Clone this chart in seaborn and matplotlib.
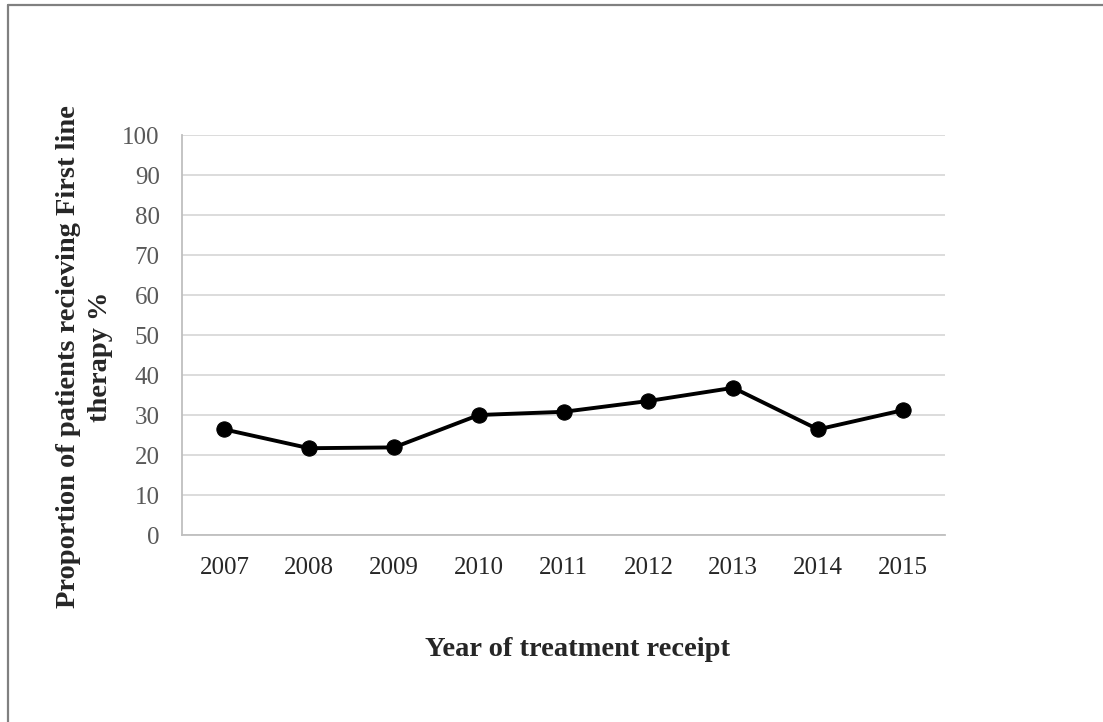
import seaborn as sns
import matplotlib.pyplot as plt
import pandas as pd
from matplotlib.lines import Line2D

years = [2007, 2008, 2009, 2010, 2011, 2012, 2013, 2014, 2015]
proportion = [26.4, 21.7, 21.9, 30.0, 30.8, 33.5, 36.8, 26.4, 31.2]

df = pd.DataFrame({'year': years, 'pct': proportion})

sns.set_style('white')
plt.rcParams['font.family'] = ['Liberation Serif', 'DejaVu Serif']

fig = plt.figure(figsize=(11.03, 7.22), dpi=100)
ax = fig.add_axes([0.165, 0.259, 0.692, 0.554])

sns.lineplot(x='year', y='pct', data=df, ax=ax, color='black', linewidth=2.8,
             marker='o', markersize=11, markeredgecolor='black')

ax.set_xlim(2006.5, 2015.5)
ax.set_ylim(0, 100)
ax.set_yticks(range(0, 101, 10))
ax.set_xticks(years)
ax.set_xticklabels([str(y) for y in years])
ax.yaxis.grid(True, color='#d9d9d9', linewidth=1.3)
ax.set_axisbelow(True)
for s in ['top', 'right']:
    ax.spines[s].set_visible(False)
for s in ['left', 'bottom']:
    ax.spines[s].set_color('#bfbfbf')
    ax.spines[s].set_linewidth(1.3)
ax.tick_params(axis='both', length=0, labelsize=18, pad=16)
ax.tick_params(axis='y', colors='#595959')
ax.tick_params(axis='x', colors='#262626')

ax.set_xlabel('Year of treatment receipt', fontsize=20.5, fontweight='bold',
              va='center')
ax.xaxis.set_label_coords(0.518, -0.2875)
ax.set_ylabel('Proportion of patients recieving First line\ntherapy %',
              fontsize=20.5, fontweight='bold', va='center', linespacing=1.35)
ax.yaxis.set_label_coords(-0.128, 0.445)

# outer frame (left and top edges only visible in the crop)
fig.add_artist(Line2D([7.5 / 1103, 7.5 / 1103], [0, 1 - 5 / 722],
                      transform=fig.transFigure, color='#808080', linewidth=1.6))
fig.add_artist(Line2D([7.5 / 1103, 1], [1 - 5 / 722, 1 - 5 / 722],
                      transform=fig.transFigure, color='#808080', linewidth=1.6))

fig.savefig('out.png', dpi=100)
